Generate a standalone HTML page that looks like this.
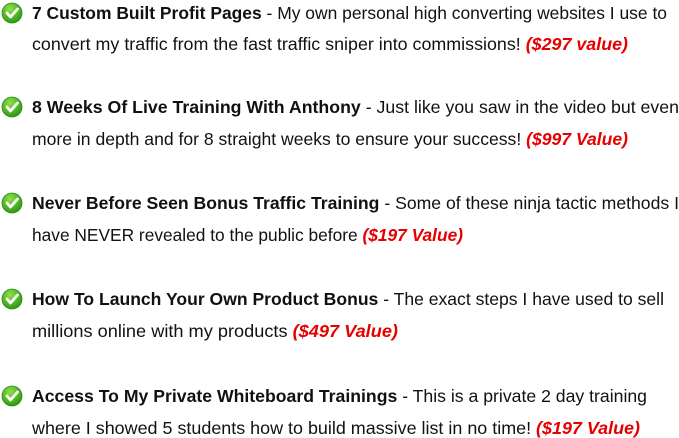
<!DOCTYPE html>
<html><head><meta charset="utf-8"><style>
html,body{margin:0;padding:0;background:#fff;width:679px;height:438px;overflow:hidden}
svg{display:block}
text{font-family:"Liberation Sans",sans-serif;font-size:17.5px;fill:#111}
.b{font-weight:bold}
.r{fill:#e60000;font-weight:bold;font-style:italic}
</style></head><body>
<svg width="679" height="438" viewBox="0 0 679 438">
<defs>
<radialGradient id="g" cx="40%" cy="30%" r="70%"><stop offset="0" stop-color="#8fe04a"/><stop offset="1" stop-color="#2f9a10"/></radialGradient>
<g id="ck"><circle cx="0" cy="0" r="10" fill="url(#g)" stroke="#2a8a12" stroke-width="0.8"/><path d="M-5,0 L-1.5,4 L5.5,-4" fill="none" stroke="#fff" stroke-width="2.8" stroke-linecap="round" stroke-linejoin="round"/></g>
</defs>
<use href="#ck" x="12" y="13"/>
<use href="#ck" x="12" y="107"/>
<use href="#ck" x="12" y="203"/>
<use href="#ck" x="12" y="299"/>
<use href="#ck" x="12" y="396"/>

<text x="32" y="19" textLength="635" lengthAdjust="spacingAndGlyphs"><tspan class="b">7 Custom Built Profit Pages</tspan> - My own personal high converting websites I use to</text>
<text x="32" y="50" textLength="596" lengthAdjust="spacingAndGlyphs">convert my traffic from the fast traffic sniper into commissions! <tspan class="r">($297 value)</tspan></text>

<text x="32" y="113" textLength="647" lengthAdjust="spacingAndGlyphs"><tspan class="b">8 Weeks Of Live Training With Anthony</tspan> - Just like you saw in the video but even</text>
<text x="32" y="145" textLength="596" lengthAdjust="spacingAndGlyphs">more in depth and for 8 straight weeks to ensure your success! <tspan class="r">($997 Value)</tspan></text>

<text x="32" y="209" textLength="647" lengthAdjust="spacingAndGlyphs"><tspan class="b">Never Before Seen Bonus Traffic Training</tspan> - Some of these ninja tactic methods I</text>
<text x="32" y="241" textLength="431" lengthAdjust="spacingAndGlyphs">have NEVER revealed to the public before <tspan class="r">($197 Value)</tspan></text>

<text x="32" y="305" textLength="632" lengthAdjust="spacingAndGlyphs"><tspan class="b">How To Launch Your Own Product Bonus</tspan> - The exact steps I have used to sell</text>
<text x="32" y="337" textLength="366" lengthAdjust="spacingAndGlyphs">millions online with my products <tspan class="r">($497 Value)</tspan></text>

<text x="32" y="402" textLength="615" lengthAdjust="spacingAndGlyphs"><tspan class="b">Access To My Private Whiteboard Trainings</tspan> - This is a private 2 day training</text>
<text x="32" y="434" textLength="608" lengthAdjust="spacingAndGlyphs">where I showed 5 students how to build  massive list in no time! <tspan class="r">($197 Value)</tspan></text>
</svg>
</body></html>
